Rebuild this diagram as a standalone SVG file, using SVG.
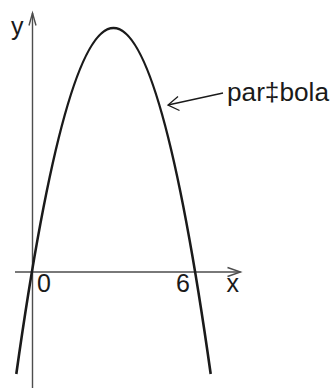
<svg xmlns="http://www.w3.org/2000/svg" width="331" height="389" viewBox="0 0 331 389">
<style>
.axis{stroke:#4d4d4d;stroke-width:1.4;fill:none}
.curve{stroke:#1a1a1a;stroke-width:2.6;fill:none}
.ptr{stroke:#1a1a1a;stroke-width:1.3;fill:none}
.lbl{font-family:"Liberation Sans",Arial,sans-serif;font-size:25px;fill:#1a1a1a}
</style>
<rect width="331" height="389" fill="#fff"/>
<g id="connectors">
<path class="axis" d="M32.5 388 V13"/>
<path class="axis" d="M29 25.5 L32.5 13 L36 25.5"/>
<path class="axis" d="M15 272 H240.5"/>
<path class="axis" d="M227.5 267.5 L240.5 272 L227.5 276.5"/>
<path class="ptr" d="M168 105 L223 93"/>
<path class="ptr" d="M178 96.5 L168 105 L179.5 110.5"/>
</g>
<g id="parabola">
<path class="curve" d="M16.3 374 Q113.5 -318 210.7 374"/>
</g>
<g id="labels">
<text class="lbl" x="11" y="35">y</text>
<text class="lbl" x="37" y="292">0</text>
<text class="lbl" x="176" y="292">6</text>
<text class="lbl" x="226.5" y="292">x</text>
<text class="lbl" x="227" y="101" textLength="102" lengthAdjust="spacingAndGlyphs">par‡bola</text>
</g>
</svg>
